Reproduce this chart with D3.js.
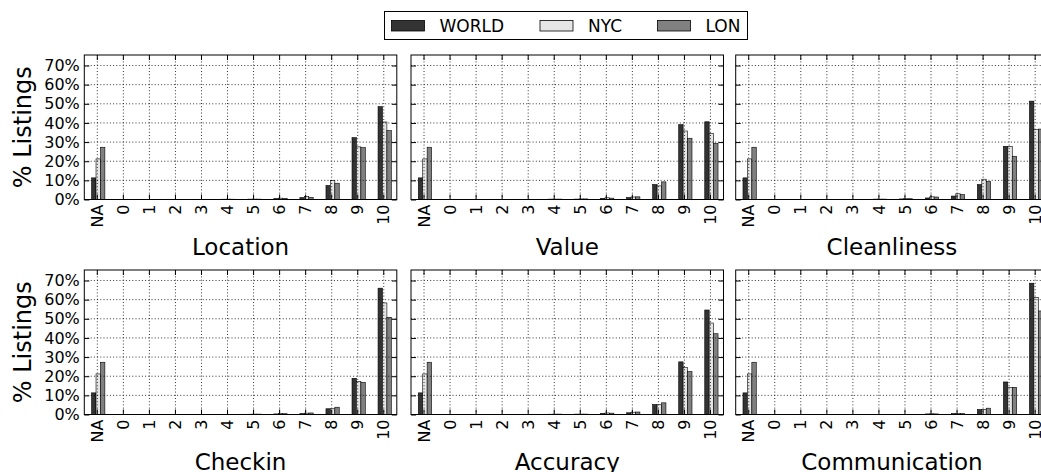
<!DOCTYPE html>
<html>
<head>
<meta charset="utf-8">
<script src="https://cdn.jsdelivr.net/npm/d3@7.9.0/dist/d3.min.js"></script>
<style>
  body { margin: 0; background: #fff; }
  svg { display: block; font-family: "DejaVu Sans", sans-serif; }
  .axis path { display: none; }
  .axis line { stroke: #000; stroke-width: 1; }
  .axis text { font-size: 16px; fill: #000; font-family: "DejaVu Sans", sans-serif; }
</style>
</head>
<body>
<svg id="chart" width="1041" height="472"></svg>
<script>
const aspects = ["Location", "Value", "Cleanliness", "Checkin", "Accuracy", "Communication"];
const scores = ["NA", "0", "1", "2", "3", "4", "5", "6", "7", "8", "9", "10"];
const series = ["WORLD", "NYC", "LON"];
const yTicks = [0, 10, 20, 30, 40, 50, 60, 70];

// % of listings per score, one row per aspect (same order as aspects)
const world = [
  [11.3, 0.05, 0.05, 0.1, 0.1, 0.15, 0.2, 0.5, 1.0, 7.3, 32.3, 48.5],
  [11.3, 0.05, 0.05, 0.1, 0.1, 0.2, 0.2, 0.6, 1.0, 7.8, 39.1, 40.6],
  [11.3, 0.05, 0.05, 0.1, 0.1, 0.2, 0.3, 0.8, 1.8, 7.8, 27.8, 51.4],
  [11.3, 0.05, 0.05, 0.1, 0.1, 0.1, 0.15, 0.3, 0.5, 3.0, 18.9, 66.0],
  [11.3, 0.05, 0.05, 0.1, 0.1, 0.15, 0.2, 0.6, 0.9, 5.2, 27.5, 54.6],
  [11.3, 0.05, 0.05, 0.05, 0.1, 0.1, 0.1, 0.3, 0.5, 2.6, 17.0, 68.6]
];
const nyc = [
  [21.2, 0.05, 0.05, 0.1, 0.1, 0.2, 0.2, 0.7, 1.5, 9.9, 27.5, 40.5],
  [21.2, 0.05, 0.05, 0.1, 0.1, 0.2, 0.3, 0.9, 1.3, 7.1, 35.8, 34.6],
  [21.2, 0.05, 0.05, 0.1, 0.1, 0.2, 0.4, 1.4, 3.0, 10.6, 27.8, 36.5],
  [21.2, 0.05, 0.05, 0.1, 0.1, 0.1, 0.2, 0.5, 0.7, 3.0, 17.3, 58.3],
  [21.2, 0.05, 0.05, 0.1, 0.1, 0.2, 0.2, 0.8, 1.2, 5.1, 24.5, 47.8],
  [21.2, 0.05, 0.05, 0.05, 0.1, 0.1, 0.1, 0.4, 0.6, 2.6, 14.2, 61.2]
];
const lon = [
  [27.3, 0.05, 0.05, 0.1, 0.1, 0.15, 0.2, 0.6, 1.1, 8.5, 27.1, 36.0],
  [27.3, 0.05, 0.05, 0.1, 0.1, 0.2, 0.3, 0.7, 1.4, 9.2, 32.0, 29.4],
  [27.3, 0.05, 0.05, 0.1, 0.1, 0.2, 0.4, 1.3, 2.6, 9.4, 22.6, 36.8],
  [27.3, 0.05, 0.05, 0.1, 0.1, 0.1, 0.2, 0.4, 0.8, 3.8, 16.8, 50.8],
  [27.3, 0.05, 0.05, 0.1, 0.1, 0.2, 0.2, 0.7, 1.3, 6.1, 22.4, 42.2],
  [27.3, 0.05, 0.05, 0.05, 0.1, 0.1, 0.1, 0.3, 0.5, 3.3, 14.2, 54.1]
];

const allValues = [world, nyc, lon];
const colors = ["#333333", "#e6e6e6", "#808080"];

const svg = d3.select('#chart');

const colLeft = [84.3, 411, 735.7];
const panelW = 312.5;
const rowTop = [55, 270];
const panelH = 144.5;

aspects.forEach((aspect, a) => {
  const col = a % 3;
  const row = Math.floor(a / 3);
  const g = svg.append('g')
    .attr('transform', `translate(${colLeft[col]},${rowTop[row]})`);

  const x = d3.scaleBand().domain(scores).range([0, panelW]);
  const y = d3.scaleLinear().domain([0, 75.5]).range([panelH, 0]);
  const bw = x.bandwidth();
  const barW = bw * 0.17;

  // bars
  series.forEach((s, k) => {
    g.append('g')
      .selectAll('rect')
      .data(allValues[k][a])
      .join('rect')
      .attr('x', (d, i) => x(scores[i]) + bw / 2 - bw * 0.22 + k * barW)
      .attr('y', d => y(d))
      .attr('width', barW)
      .attr('height', d => panelH - y(d))
      .attr('fill', colors[k])
      .attr('stroke', '#000')
      .attr('stroke-width', 0.6);
  });

  // dotted grid on top of bars
  g.append('g')
    .selectAll('line')
    .data(scores)
    .join('line')
    .attr('x1', d => x(d) + bw / 2)
    .attr('x2', d => x(d) + bw / 2)
    .attr('y1', 0)
    .attr('y2', panelH)
    .attr('stroke', '#000')
    .attr('stroke-width', 0.8)
    .attr('stroke-dasharray', '1,2.2');
  g.append('g')
    .selectAll('line')
    .data(yTicks.slice(1))
    .join('line')
    .attr('x1', 0)
    .attr('x2', panelW)
    .attr('y1', d => y(d))
    .attr('y2', d => y(d))
    .attr('stroke', '#000')
    .attr('stroke-width', 0.8)
    .attr('stroke-dasharray', '1,2.2');

  // axes with inward ticks
  const xb = g.append('g')
    .attr('class', 'axis')
    .attr('transform', `translate(0,${panelH})`)
    .call(d3.axisBottom(x).tickSize(-5));
  xb.selectAll('text')
    .attr('transform', 'rotate(-90)')
    .attr('text-anchor', 'end')
    .attr('x', -5)
    .attr('y', 0)
    .attr('dy', '0.35em');

  g.append('g')
    .attr('class', 'axis')
    .call(d3.axisTop(x).tickSize(-5).tickFormat(''));

  g.append('g')
    .attr('class', 'axis')
    .attr('transform', `translate(${panelW},0)`)
    .call(d3.axisRight(y).tickValues(yTicks).tickSize(-5).tickFormat(''));

  const yl = d3.axisLeft(y).tickValues(yTicks).tickSize(-5).tickPadding(4.5)
    .tickFormat(d => d + '%');
  const ya = g.append('g').attr('class', 'axis').call(yl);
  if (col !== 0) ya.selectAll('text').remove();

  // frame
  g.append('rect')
    .attr('width', panelW)
    .attr('height', panelH)
    .attr('fill', 'none')
    .attr('stroke', '#000')
    .attr('stroke-width', 1);

  // title under panel
  g.append('text')
    .attr('x', panelW / 2)
    .attr('y', panelH + 55)
    .attr('text-anchor', 'middle')
    .attr('font-size', 23)
    .text(aspect);

  if (col === 0) {
    g.append('text')
      .attr('transform', `translate(${-53},${panelH / 2}) rotate(-90)`)
      .attr('text-anchor', 'middle')
      .attr('font-size', 24)
      .text('% Listings');
  }
});

// legend
const legend = svg.append('g');
legend.append('rect')
  .attr('x', 384.5).attr('y', 11.5)
  .attr('width', 363).attr('height', 28)
  .attr('fill', '#fff')
  .attr('stroke', '#000')
  .attr('stroke-width', 1);

const legendX = [391.5, 540, 657.5];
series.forEach((s, k) => {
  legend.append('rect')
    .attr('x', legendX[k]).attr('y', 20.5)
    .attr('width', 33).attr('height', 10.5)
    .attr('fill', colors[k])
    .attr('stroke', '#000')
    .attr('stroke-width', 0.8);
  legend.append('text')
    .attr('x', legendX[k] + 48)
    .attr('y', 31.5)
    .attr('font-size', 17)
    .text(s);
});
</script>
</body>
</html>
